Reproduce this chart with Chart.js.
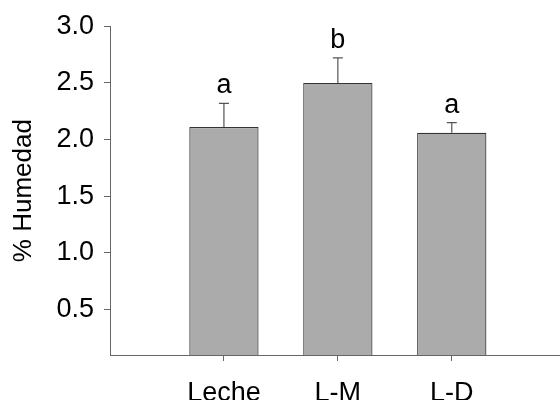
<!DOCTYPE html>
<html>
<head>
<meta charset="utf-8">
<script src="https://cdn.jsdelivr.net/npm/chart.js@4/dist/chart.umd.min.js"></script>
<style>
    html, body { margin: 0; padding: 0; background: #fff; }
    #wrap { width: 560px; height: 400px; }
</style>
</head>
<body>
<div id="wrap"><canvas id="chart-area"></canvas></div>
<script>
var categories = ["Leche", "L-M", "L-D"];
var humedad = [2.11, 2.50, 2.06];
var errorUp = [0.21, 0.22, 0.09];
var letters = ["a", "b", "a"];
var yTicks = [0.5, 1.0, 1.5, 2.0, 2.5, 3.0];

var fontFamily = "'Liberation Sans', Arial, Helvetica, sans-serif";
var axisColor = "#666666";

// error bars (upward only) plus the significance letters
var errorBarPlugin = {
    id: 'errorBars',
    afterDatasetsDraw: function(chart) {
        var ctx = chart.ctx;
        var yScale = chart.scales.y;
        var meta = chart.getDatasetMeta(0);
        ctx.save();
        meta.data.forEach(function(bar, i) {
            var yTop = yScale.getPixelForValue(humedad[i] + errorUp[i]);
            var yBar = yScale.getPixelForValue(humedad[i]);
            ctx.strokeStyle = "#555555";
            ctx.lineWidth = 1.2;
            ctx.beginPath();
            ctx.moveTo(bar.x, yBar);
            ctx.lineTo(bar.x, yTop);
            ctx.moveTo(bar.x - 5, yTop);
            ctx.lineTo(bar.x + 5, yTop);
            ctx.stroke();

            ctx.fillStyle = "#000";
            ctx.font = "27px " + fontFamily;
            ctx.textAlign = "center";
            ctx.textBaseline = "alphabetic";
            ctx.fillText(letters[i], bar.x, yTop - 10);
        });
        ctx.restore();
    }
};

var config = {
    type: 'bar',
    data: {
        datasets: [{
            data: categories.map(function(c, i) { return { x: i, y: humedad[i] }; }),
            backgroundColor: "#ABABAB",
            borderColor: "#333333",
            borderWidth: 1.2,
            barPercentage: 0.76,
            categoryPercentage: 0.8
        }]
    },
    options: {
        responsive: true,
        maintainAspectRatio: false,
        animation: false,
        layout: {
            padding: { top: 25, right: 0, bottom: 0, left: 0 }
        },
        plugins: {
            legend: { display: false },
            tooltip: { enabled: false }
        },
        scales: {
            x: {
                type: 'linear',
                min: -1,
                max: 2.95,
                offset: false,
                afterBuildTicks: function(axis) {
                    axis.ticks = categories.map(function(c, i) { return { value: i }; });
                },
                afterFit: function(scale) {
                    scale.height = 45;
                },
                ticks: {
                    color: "#000",
                    font: { family: fontFamily, size: 27 },
                    padding: 16,
                    maxRotation: 0,
                    callback: function(v) { return categories[v]; }
                },
                grid: {
                    offset: false,
                    drawOnChartArea: false,
                    drawTicks: true,
                    tickLength: 6,
                    color: axisColor
                },
                border: { display: true, color: axisColor, width: 1 }
            },
            y: {
                min: 0.1,
                max: 3.0,
                afterBuildTicks: function(axis) {
                    axis.ticks = yTicks.map(function(v) { return { value: v }; });
                },
                afterFit: function(scale) {
                    scale.width = 110;
                },
                ticks: {
                    color: "#000",
                    font: { family: fontFamily, size: 27 },
                    padding: 10,
                    callback: function(v) { return v.toFixed(1); }
                },
                grid: {
                    drawOnChartArea: false,
                    drawTicks: true,
                    tickLength: 6,
                    color: axisColor
                },
                border: { display: true, color: axisColor, width: 1 },
                title: {
                    display: true,
                    text: "% Humedad",
                    color: "#000",
                    font: { family: fontFamily, size: 26 },
                    padding: { top: 8, bottom: 0 }
                }
            }
        }
    },
    plugins: [errorBarPlugin]
};

window.onload = function() {
    var ctx = document.getElementById("chart-area").getContext("2d");
    window.myBar = new Chart(ctx, config);
};
</script>
</body>
</html>
